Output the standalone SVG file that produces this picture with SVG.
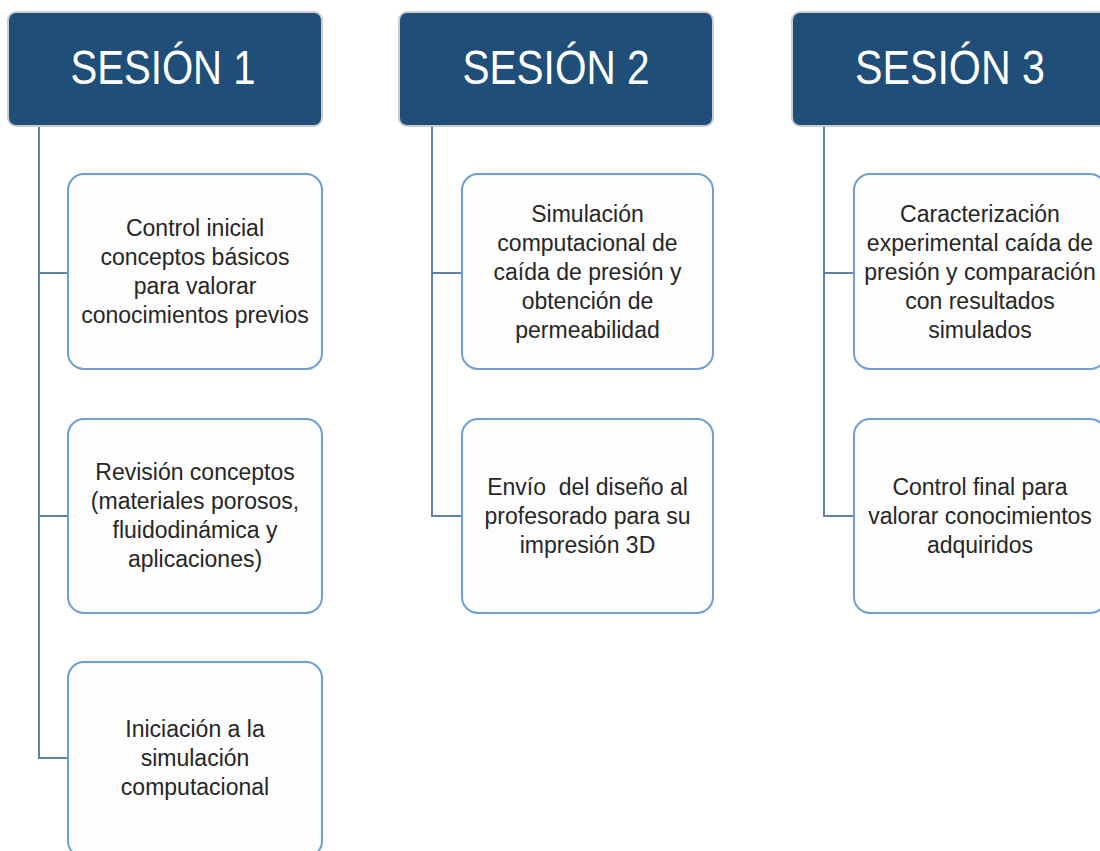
<svg xmlns="http://www.w3.org/2000/svg" width="1100" height="851" viewBox="0 0 1100 851">
  <style>
    .head rect { fill: #1f4e79; stroke: #cdcdcd; stroke-width: 2; }
    .head text { fill: #ffffff; font-family: "Liberation Sans", Arial, sans-serif; font-size: 48px; text-anchor: middle; }
    .item rect { fill: #fdfdfd; stroke: #6e9fd3; stroke-width: 2; }
    .item text { fill: #262626; font-family: "Liberation Sans", Arial, sans-serif; font-size: 23px; text-anchor: middle; }
    .links path { fill: none; stroke: #5f81a8; stroke-width: 2; }
  </style>
  <rect width="1100" height="851" fill="#ffffff"/>

  <!-- tree connectors -->
  <g id="connectors" class="links">
    <path d="M39 126 V758 H68"/>
    <path d="M39 273 H68"/>
    <path d="M39 516 H68"/>
    <path d="M432 126 V516 H462"/>
    <path d="M432 273 H462"/>
    <path d="M824 126 V516 H854"/>
    <path d="M824 273 H854"/>
  </g>

  <!-- session headers -->
  <g id="sesion1" class="head">
    <rect x="8" y="12" width="314" height="114" rx="8"/>
    <text x="163" y="84" textLength="185" lengthAdjust="spacingAndGlyphs">SESIÓN 1</text>
  </g>
  <g id="sesion2" class="head">
    <rect x="399" y="12" width="314" height="114" rx="8"/>
    <text x="556" y="84" textLength="187" lengthAdjust="spacingAndGlyphs">SESIÓN 2</text>
  </g>
  <g id="sesion3" class="head">
    <rect x="792" y="12" width="315" height="114" rx="8"/>
    <text x="950" y="84" textLength="190" lengthAdjust="spacingAndGlyphs">SESIÓN 3</text>
  </g>

  <!-- session 1 activities -->
  <g id="s1-control-inicial" class="item">
    <rect x="68" y="174" width="254" height="195" rx="16"/>
    <text x="195" y="236">Control inicial</text>
    <text x="195" y="265">conceptos básicos</text>
    <text x="195" y="294">para valorar</text>
    <text x="195" y="323">conocimientos previos</text>
  </g>
  <g id="s1-revision" class="item">
    <rect x="68" y="419" width="254" height="194" rx="16"/>
    <text x="195" y="480">Revisión conceptos</text>
    <text x="195" y="509">(materiales porosos,</text>
    <text x="195" y="538">fluidodinámica y</text>
    <text x="195" y="567">aplicaciones)</text>
  </g>
  <g id="s1-iniciacion" class="item">
    <rect x="68" y="662" width="254" height="195" rx="16"/>
    <text x="195" y="737">Iniciación a la</text>
    <text x="195" y="766">simulación</text>
    <text x="195" y="795">computacional</text>
  </g>

  <!-- session 2 activities -->
  <g id="s2-simulacion" class="item">
    <rect x="462" y="174" width="251" height="195" rx="16"/>
    <text x="587.5" y="222">Simulación</text>
    <text x="587.5" y="251">computacional de</text>
    <text x="587.5" y="280">caída de presión y</text>
    <text x="587.5" y="309">obtención de</text>
    <text x="587.5" y="338">permeabilidad</text>
  </g>
  <g id="s2-envio" class="item">
    <rect x="462" y="419" width="251" height="194" rx="16"/>
    <text x="587.5" y="495">Envío&#160; del diseño al</text>
    <text x="587.5" y="524">profesorado para su</text>
    <text x="587.5" y="553">impresión 3D</text>
  </g>

  <!-- session 3 activities -->
  <g id="s3-caracterizacion" class="item">
    <rect x="854" y="174" width="252" height="195" rx="16"/>
    <text x="980" y="222">Caracterización</text>
    <text x="980" y="251">experimental caída de</text>
    <text x="980" y="280">presión y comparación</text>
    <text x="980" y="309">con resultados</text>
    <text x="980" y="338">simulados</text>
  </g>
  <g id="s3-control-final" class="item">
    <rect x="854" y="419" width="252" height="194" rx="16"/>
    <text x="980" y="495">Control final para</text>
    <text x="980" y="524">valorar conocimientos</text>
    <text x="980" y="553">adquiridos</text>
  </g>
</svg>
